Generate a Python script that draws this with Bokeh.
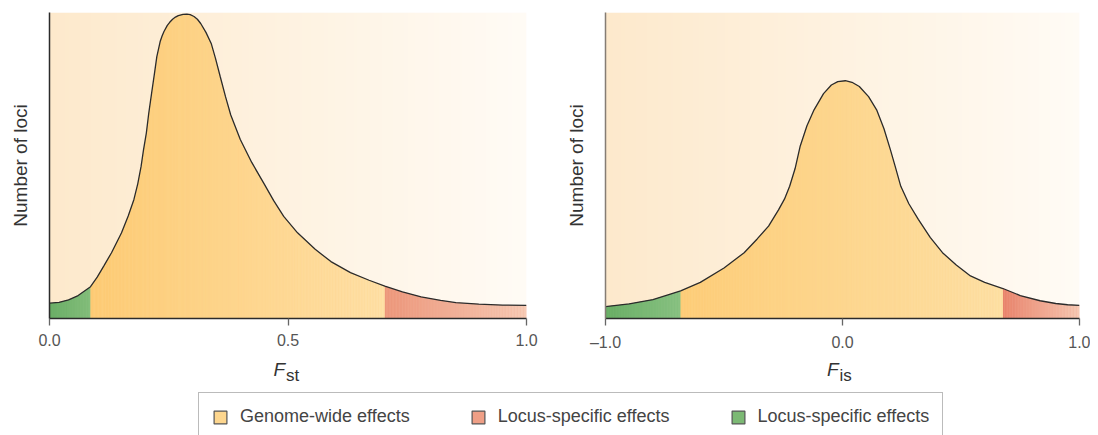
import numpy as np
from bokeh.plotting import figure
from bokeh.models import Range1d, FixedTicker, Label, Legend, LegendItem
from bokeh.layouts import column, row
from bokeh.embed import file_html
from bokeh.resources import INLINE

FONT = "Liberation Sans"

# ---- data (y as fraction of plot height) ----
fst_x = [0.0, 0.02, 0.04, 0.06, 0.086, 0.10, 0.114, 0.13, 0.151, 0.165, 0.177, 0.185,
         0.192, 0.197, 0.203, 0.208, 0.214, 0.22, 0.225, 0.232, 0.236, 0.24, 0.247, 0.252,
         0.258, 0.264, 0.27, 0.28, 0.288, 0.295, 0.303, 0.31, 0.317, 0.328, 0.339, 0.348,
         0.358, 0.369, 0.380, 0.40, 0.424, 0.45, 0.47, 0.491, 0.52, 0.557, 0.59, 0.631,
         0.67, 0.703, 0.74, 0.779, 0.82, 0.852, 0.90, 0.95, 1.0]
fst_y = [0.050, 0.053, 0.061, 0.075, 0.104, 0.135, 0.172, 0.215, 0.280, 0.335, 0.389, 0.44,
         0.497, 0.55, 0.606, 0.67, 0.736, 0.80, 0.856, 0.905, 0.923, 0.938, 0.958, 0.968,
         0.978, 0.985, 0.99, 0.994, 0.995, 0.993, 0.987, 0.978, 0.964, 0.935, 0.899, 0.85,
         0.790, 0.725, 0.665, 0.585, 0.51, 0.44, 0.385, 0.334, 0.28, 0.226, 0.186, 0.150,
         0.125, 0.106, 0.087, 0.071, 0.059, 0.052, 0.047, 0.044, 0.043]

fis_x = [-1.0, -0.9, -0.8, -0.683, -0.6, -0.5, -0.415, -0.36, -0.312, -0.27, -0.245, -0.223,
         -0.20, -0.179, -0.15, -0.12, -0.08, -0.047, -0.02, 0.012, 0.04, 0.071, 0.11, 0.144,
         0.175, 0.202, 0.225, 0.246, 0.28, 0.32, 0.37, 0.422, 0.48, 0.54, 0.60, 0.677, 0.75,
         0.834, 0.9, 0.95, 1.0]
fis_y = [0.039, 0.048, 0.062, 0.090, 0.118, 0.165, 0.215, 0.26, 0.302, 0.355, 0.39, 0.432,
         0.49, 0.562, 0.63, 0.682, 0.735, 0.763, 0.774, 0.777, 0.772, 0.758, 0.725, 0.682,
         0.62, 0.552, 0.49, 0.432, 0.375, 0.324, 0.265, 0.215, 0.175, 0.139, 0.118, 0.098,
         0.075, 0.058, 0.049, 0.045, 0.043]

# region boundaries: [start, green|yellow, yellow|red, end]
fst_bounds = [0.0, 0.086, 0.703, 1.0]
fis_bounds = [-1.0, -0.683, 0.677, 1.0]

fst_ticks = [0.0, 0.5, 1.0]
fst_tick_labels = ["0.0", "0.5", "1.0"]
fis_ticks = [-1.0, 0.0, 1.0]
fis_tick_labels = ["\u20131.0", "0.0", "1.0"]

legend_labels = ["Genome-wide effects", "Locus-specific effects", "Locus-specific effects"]
legend_colors = ["#fdd68e", "#ef9f86", "#7cb974"]

# colour gradients (left colour, right colour) per region: green, yellow, red
fst_region_colors = [("#69ad65", "#85be7c"), ("#fdca73", "#fee0a7"), ("#ec9579", "#f6cbb6")]
fis_region_colors = [("#68ad64", "#8ac283"), ("#fdcc77", "#fde0a6"), ("#e8826a", "#f6cab5")]
bg_colors = ("#fde9cc", "#fffbf5")

# ---- layout geometry (pixels) ----
TOP = 12
FRAME_H = 306
BOTTOM = 35
P1 = dict(left=49, frame=477, right=36)
P2 = dict(left=41, frame=476, right=11)
STRIP_H = 90


def hex2rgb(h):
    h = h.lstrip("#")
    return np.array([int(h[i:i + 2], 16) for i in (0, 2, 4)], dtype=float)


def lerp_hex(c0, c1, t):
    a, b = hex2rgb(c0), hex2rgb(c1)
    c = np.round(a + (b - a) * t).astype(int)
    return "#%02x%02x%02x" % tuple(c)


def make_panel(xs, ys, bounds, colors, ticks, tick_labels, geo, dark_yaxis):
    x0, x1 = bounds[0], bounds[-1]
    p = figure(width=geo["left"] + geo["frame"] + geo["right"], height=TOP + FRAME_H + BOTTOM,
               x_range=Range1d(x0, x1), y_range=Range1d(0, 1),
               output_backend="svg", toolbar_location=None,
               min_border_left=geo["left"], min_border_right=geo["right"],
               min_border_top=TOP, min_border_bottom=BOTTOM)
    p.outline_line_color = None
    p.grid.visible = False
    p.background_fill_color = "white"
    p.border_fill_color = "white"

    # background gradient
    n = 256
    img = np.empty((2, n), dtype=np.uint32)
    view = img.view(dtype=np.uint8).reshape((2, n, 4))
    a, b = hex2rgb(bg_colors[0]), hex2rgb(bg_colors[1])
    for j in range(n):
        t = j / (n - 1)
        view[:, j, :3] = np.round(a + (b - a) * t).astype(np.uint8)
        view[:, j, 3] = 255
    p.image_rgba(image=[img], x=x0, y=0, dw=x1 - x0, dh=1.0)

    xs_a, ys_a = np.asarray(xs), np.asarray(ys)

    # base fill per region (mid colour) so that strip seams never show the background
    for r in range(3):
        m = (xs_a >= bounds[r]) & (xs_a <= bounds[r + 1])
        p.varea(x=xs_a[m], y1=0, y2=ys_a[m], fill_color=lerp_hex(colors[r][0], colors[r][1], 0.5))

    # gradient-filled area under the piecewise-linear curve, cut in thin strips
    step = (x1 - x0) / 300.0
    pxs, pys, pcs = [], [], []
    for i in range(len(xs) - 1):
        xa, xb, ya, yb = xs[i], xs[i + 1], ys[i], ys[i + 1]
        k = max(1, int(np.ceil((xb - xa) / step)))
        for s in range(k):
            u0, u1 = s / k, (s + 1) / k
            sa, sb = xa + (xb - xa) * u0, xa + (xb - xa) * u1
            ha, hb = ya + (yb - ya) * u0, ya + (yb - ya) * u1
            xm = 0.5 * (sa + sb)
            r = 0 if xm < bounds[1] else (1 if xm < bounds[2] else 2)
            t = (xm - bounds[r]) / (bounds[r + 1] - bounds[r])
            pxs.append([sa, sb, sb, sa])
            pys.append([0, 0, hb, ha])
            pcs.append(lerp_hex(colors[r][0], colors[r][1], t))
    p.patches(xs=pxs, ys=pys, fill_color=pcs, line_color=None)

    p.line(xs, ys, line_color="#2b2b2b", line_width=1.3)

    # x axis
    xa_ = p.xaxis[0]
    xa_.ticker = FixedTicker(ticks=ticks)
    xa_.major_label_overrides = {float(k): v for k, v in zip(ticks, tick_labels)}
    xa_.major_label_text_font = FONT
    xa_.major_label_text_font_size = "16px"
    xa_.major_label_text_color = "#555555"
    xa_.major_label_standoff = 8
    xa_.major_tick_in = 0
    xa_.major_tick_out = 7
    xa_.major_tick_line_color = "#666666"
    xa_.major_tick_line_width = 1.3
    xa_.minor_tick_line_color = None
    xa_.axis_line_color = "#2b2b2b"
    xa_.axis_line_width = 1.5

    # y axis
    ya = p.yaxis[0]
    ya.ticker = FixedTicker(ticks=[])
    ya.major_tick_in = 0
    ya.major_tick_out = 0
    ya.minor_tick_line_color = None
    ya.major_label_standoff = 0
    ya.axis_line_color = "#2b2b2b" if dark_yaxis else "#857d74"
    ya.axis_line_width = 1.5
    ya.axis_label = "Number of loci"
    ya.axis_label_text_font = FONT
    ya.axis_label_text_font_style = "normal"
    ya.axis_label_text_font_size = "19px"
    ya.axis_label_text_color = "#333333"
    ya.axis_label_standoff = 19
    return p


p1 = make_panel(fst_x, fst_y, fst_bounds, fst_region_colors, fst_ticks, fst_tick_labels,
                P1, True)
p2 = make_panel(fis_x, fis_y, fis_bounds, fis_region_colors, fis_ticks, fis_tick_labels,
                P2, False)

# ---- strip below: axis titles and legend ----
W1 = P1["left"] + P1["frame"] + P1["right"]
W2 = P2["left"] + P2["frame"] + P2["right"]
TOTAL_W = W1 + W2
LEG_LEFT, LEG_TOP = 198, 392 - (TOP + FRAME_H + BOTTOM)
strip_left = LEG_LEFT - LEG_TOP

pl = figure(width=TOTAL_W, height=STRIP_H, x_range=Range1d(strip_left, TOTAL_W),
            y_range=Range1d(0, STRIP_H),
            output_backend="svg", toolbar_location=None,
            x_axis_location=None, y_axis_location=None,
            min_border_left=strip_left, min_border_right=0, min_border_top=0,
            min_border_bottom=0)
pl.outline_line_color = None
pl.grid.visible = False
pl.background_fill_color = "white"
pl.border_fill_color = "white"


def centre_px(offset, geo):
    return offset + geo["left"] + geo["frame"] * 0.5


for cx, sub in [(centre_px(0, P1), "st"), (centre_px(W1, P2), "is")]:
    pl.add_layout(Label(x=cx, y=STRIP_H - 16, text="F", text_font=FONT,
                        text_font_style="italic", text_font_size="19px",
                        text_color="#333333", text_align="right",
                        text_baseline="alphabetic", x_offset=-3))
    pl.add_layout(Label(x=cx, y=STRIP_H - 22, text=sub, text_font=FONT,
                        text_font_size="17px", text_color="#333333",
                        text_align="left", text_baseline="alphabetic", x_offset=-2))

rs = [pl.quad(left=[np.nan], right=[np.nan], top=[np.nan], bottom=[np.nan],
              fill_color=c, line_color="#555555", line_width=1.2) for c in legend_colors]
leg = Legend(items=[LegendItem(label=l, renderers=[r]) for l, r in zip(legend_labels, rs)],
             orientation="horizontal", location="top_left", margin=LEG_TOP, padding=13,
             spacing=60, glyph_width=16, glyph_height=16, label_standoff=12,
             label_text_font=FONT, label_text_font_size="18px", label_text_color="#444444",
             border_line_color="#777777", border_line_width=1.5,
             background_fill_color="white", background_fill_alpha=1.0)
pl.add_layout(leg)

layout = column(row(p1, p2), pl)
open("out.html", "w").write(file_html(layout, INLINE))
